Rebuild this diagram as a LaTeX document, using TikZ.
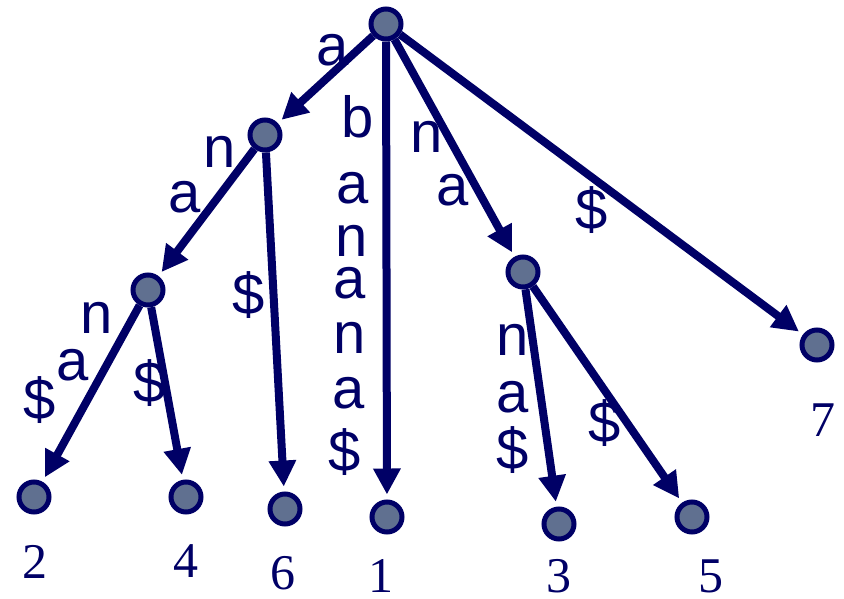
\documentclass[tikz,border=0pt]{standalone}
\usepackage{fontspec}
\setmainfont{Liberation Serif}
\newfontfamily\lettersf{Liberation Sans}
\usetikzlibrary{arrows.meta}
\definecolor{navy}{RGB}{0,0,102}
\definecolor{nodefill}{RGB}{96,112,144}
\begin{document}
\begin{tikzpicture}[x=1pt,y=-1pt,
  vert/.style={circle, draw=navy, fill=nodefill, line width=5pt, minimum size=30pt, inner sep=0pt},
  edge/.style={navy, line width=8pt, -{Triangle[length=26pt,width=26pt]}, shorten >=5pt},
  lab/.style={text=navy, font=\lettersf\fontsize{58}{62}\selectfont, inner sep=0pt},
  num/.style={text=navy, font=\fontsize{50}{54}\selectfont, inner sep=0pt}]
\useasboundingbox (0,0) rectangle (844,598);
% internal vertices
\node[vert] (r) at (386,24) {};
\node[vert] (u) at (265,135) {};
\node[vert] (v) at (148,290) {};
\node[vert] (w) at (523,272) {};
% leaves
\node[vert] (l2) at (34,497) {};
\node[vert] (l4) at (186,497) {};
\node[vert] (l6) at (285,509) {};
\node[vert] (l1) at (387,517) {};
\node[vert] (l3) at (559,524) {};
\node[vert] (l5) at (692,517) {};
\node[vert] (l7) at (817,345) {};
% edges
\draw[edge] (r) -- (u);
\draw[edge] (r) -- (l1);
\draw[edge] (r) -- (w);
\draw[edge] (r) -- (l7);
\draw[edge] (u) -- (v);
\draw[edge] (u) -- (l6);
\draw[edge] (v) -- (l2);
\draw[edge] (v) -- (l4);
\draw[edge] (w) -- (l3);
\draw[edge] (w) -- (l5);
% edge labels
\node[lab] (ta) at (333,50) {a};
\node[lab] (tn1) at (220,152) {n};
\node[lab] (ta1) at (185,197) {a};
\node[lab] (tb) at (358,117) {b};
\node[lab] (tb2) at (353,188) {a};
\node[lab] (tb3) at (352,241) {n};
\node[lab] (tb4) at (350,283) {a};
\node[lab] (tb5) at (350,338) {n};
\node[lab] (tb6) at (349,393) {a};
\node[lab] (tb7) at (345,452) {\$};
\node[lab] (tn) at (427,137) {n};
\node[lab] (tna) at (453,190) {a};
\node[lab] (td7) at (592,210) {\$};
\node[lab] (td6) at (249,295) {\$};
\node[lab] (tv1) at (97,318) {n};
\node[lab] (tv2) at (73,365) {a};
\node[lab] (tv3) at (40,400) {\$};
\node[lab] (td4) at (150,383) {\$};
\node[lab] (tw1) at (513,340) {n};
\node[lab] (tw2) at (513,397) {a};
\node[lab] (tw3) at (513,450) {\$};
\node[lab] (td5) at (605,423) {\$};
% leaf numbers
\node[num] (n2) at (35,562) {2};
\node[num] (n4) at (186,561) {4};
\node[num] (n6) at (283,573) {6};
\node[num] (n1) at (381,576) {1};
\node[num] (n3) at (559,576) {3};
\node[num] (n5) at (711,576) {5};
\node[num] (n7) at (823,420) {7};
\end{tikzpicture}
\end{document}
